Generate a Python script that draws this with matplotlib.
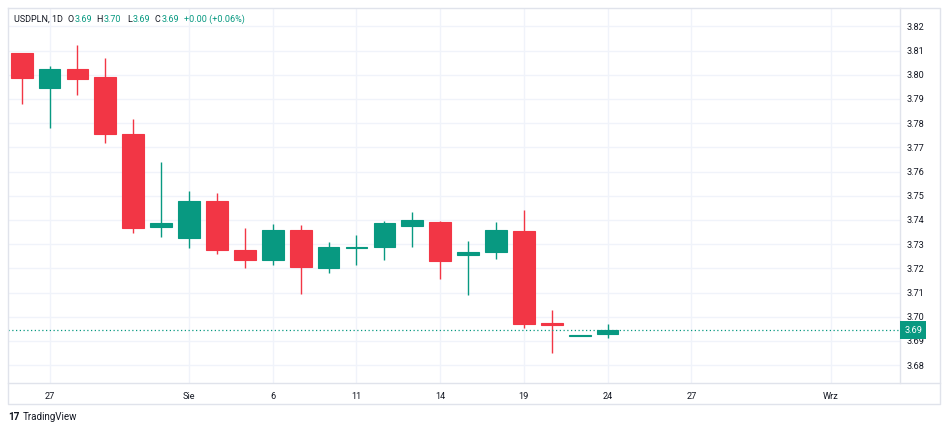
import matplotlib
matplotlib.use("Agg")
from matplotlib import pyplot as plt
from matplotlib.lines import Line2D
import numpy as np

plt.rcParams['font.family'] = ['Roboto', 'DejaVu Sans']

# USDPLN daily candles
opens  = [3.8088, 3.7946, 3.8022, 3.7989, 3.7755, 3.7369, 3.7326, 3.7478, 3.7276, 3.7233, 3.7357,
          3.7203, 3.7282, 3.7287, 3.7377, 3.7392, 3.7255, 3.7267, 3.7354, 3.6972, 3.6922, 3.6928]
highs  = [3.8090, 3.8036, 3.8123, 3.8069, 3.7816, 3.7639, 3.7519, 3.7510, 3.7366, 3.7383, 3.7379,
          3.7308, 3.7338, 3.7396, 3.7433, 3.7395, 3.7312, 3.7390, 3.7441, 3.7028, 3.6925, 3.6969]
lows   = [3.7880, 3.7778, 3.7917, 3.7719, 3.7344, 3.7328, 3.7282, 3.7261, 3.7200, 3.7212, 3.7093,
          3.7181, 3.7212, 3.7236, 3.7289, 3.7156, 3.7089, 3.7238, 3.6954, 3.6852, 3.6921, 3.6912]
closes = [3.7988, 3.8022, 3.7983, 3.7756, 3.7368, 3.7388, 3.7478, 3.7276, 3.7233, 3.7359, 3.7204,
          3.7289, 3.7289, 3.7386, 3.7398, 3.7229, 3.7269, 3.7357, 3.6970, 3.6967, 3.6924, 3.6945]

tick_pos = [1, 6, 9, 12, 15, 18, 21, 24, 29]
tick_labels = ['27', 'Sie', '6', '11', '14', '19', '24', '27', 'Wrz']
price_ticks = [3.68, 3.69, 3.70, 3.71, 3.72, 3.73, 3.74, 3.75, 3.76, 3.77, 3.78, 3.79, 3.80, 3.81, 3.82]

UP = '#089981'
DOWN = '#F23645'
TXT = '#131722'
GRID = '#f0f3fa'
BORDER = '#e0e3eb'
FS = 6.6

W, H = 948, 430
fig = plt.figure(figsize=(W / 100, H / 100), dpi=100)
fig.patch.set_facecolor('white')
ax = fig.add_axes([8 / W, 1 - 383 / H, 892 / W, 375 / H])

x = np.arange(len(opens))
o = np.array(opens); c = np.array(closes)
cols = [UP if cc >= oo else DOWN for oo, cc in zip(opens, closes)]
ax.vlines(x, lows, highs, colors=cols, linewidth=1.0, zorder=3)
ax.bar(x, np.abs(c - o), bottom=np.minimum(o, c), width=0.78, color=cols,
       edgecolor=cols, linewidth=0.8, zorder=4)

ax.set_xlim(-0.49, 31.48)
ax.set_ylim(3.6726, 3.8276)

ax.set_yticks(price_ticks)
ax.set_yticklabels([f'{p:.2f}' for p in price_ticks])
ax.yaxis.tick_right()
ax.set_xticks(tick_pos)
ax.set_xticklabels(tick_labels)
ax.tick_params(axis='both', length=0, labelsize=FS, labelcolor=TXT)
ax.tick_params(axis='y', pad=5)
ax.tick_params(axis='x', pad=6.5)
ax.grid(True, color=GRID, linewidth=1.0, zorder=0)
ax.set_axisbelow(True)
for side in ['top', 'bottom', 'left']:
    ax.spines[side].set_visible(False)
ax.spines['right'].set_color(BORDER)
ax.spines['right'].set_linewidth(1.0)

# last price line and badge
last = closes[-1]
ax.axhline(last, color=UP, linestyle=(0, (1, 2)), linewidth=0.9, zorder=5)
ax.annotate(f'{last:.2f}', xy=(1, last), xycoords=('axes fraction', 'data'),
            xytext=(3.0, 0), textcoords='offset points', ha='left', va='center',
            fontsize=FS, color='white', annotation_clip=False, zorder=6,
            bbox=dict(boxstyle='square,pad=0.45', fc=UP, ec='none'))

# outer frame and time-axis separator
fx = lambda px: px / W
fy = lambda py: 1 - py / H
fig.add_artist(Line2D([fx(8), fx(940), fx(940), fx(8), fx(8)],
                      [fy(8), fy(8), fy(404), fy(404), fy(8)], color=BORDER, lw=1.0))
fig.add_artist(Line2D([fx(8), fx(940)], [fy(383), fy(383)], color=BORDER, lw=1.0))

# header legend with mixed colours; (text, colour, left edge in px)
prev = closes[-2]
chg = last - prev
pct = chg / prev * 100
parts = [('USDPLN, 1D', TXT, 14), ('O', TXT, 67.5), (f'{opens[-1]:.2f}', UP, 74.5),
         ('H', TXT, 96.5), (f'{highs[-1]:.2f}', UP, 104),
         ('L', TXT, 127), (f'{lows[-1]:.2f}', UP, 132.5),
         ('C', TXT, 154.5), (f'{last:.2f}', UP, 161.5),
         (f'{chg:+.2f} ({pct:+.2f}%)', UP, 184)]
for s, col, px in parts:
    fig.text(fx(px), fy(19.5), s, color=col, fontsize=6.5, va='center', ha='left')

# branding
fig.text(fx(8), fy(417), '17', fontsize=FS + 0.6, fontweight='bold', color=TXT, va='center')
fig.text(fx(23), fy(417), 'TradingView', fontsize=FS + 0.4, color=TXT, va='center')

fig.savefig('out.png', dpi=100, facecolor='white')
